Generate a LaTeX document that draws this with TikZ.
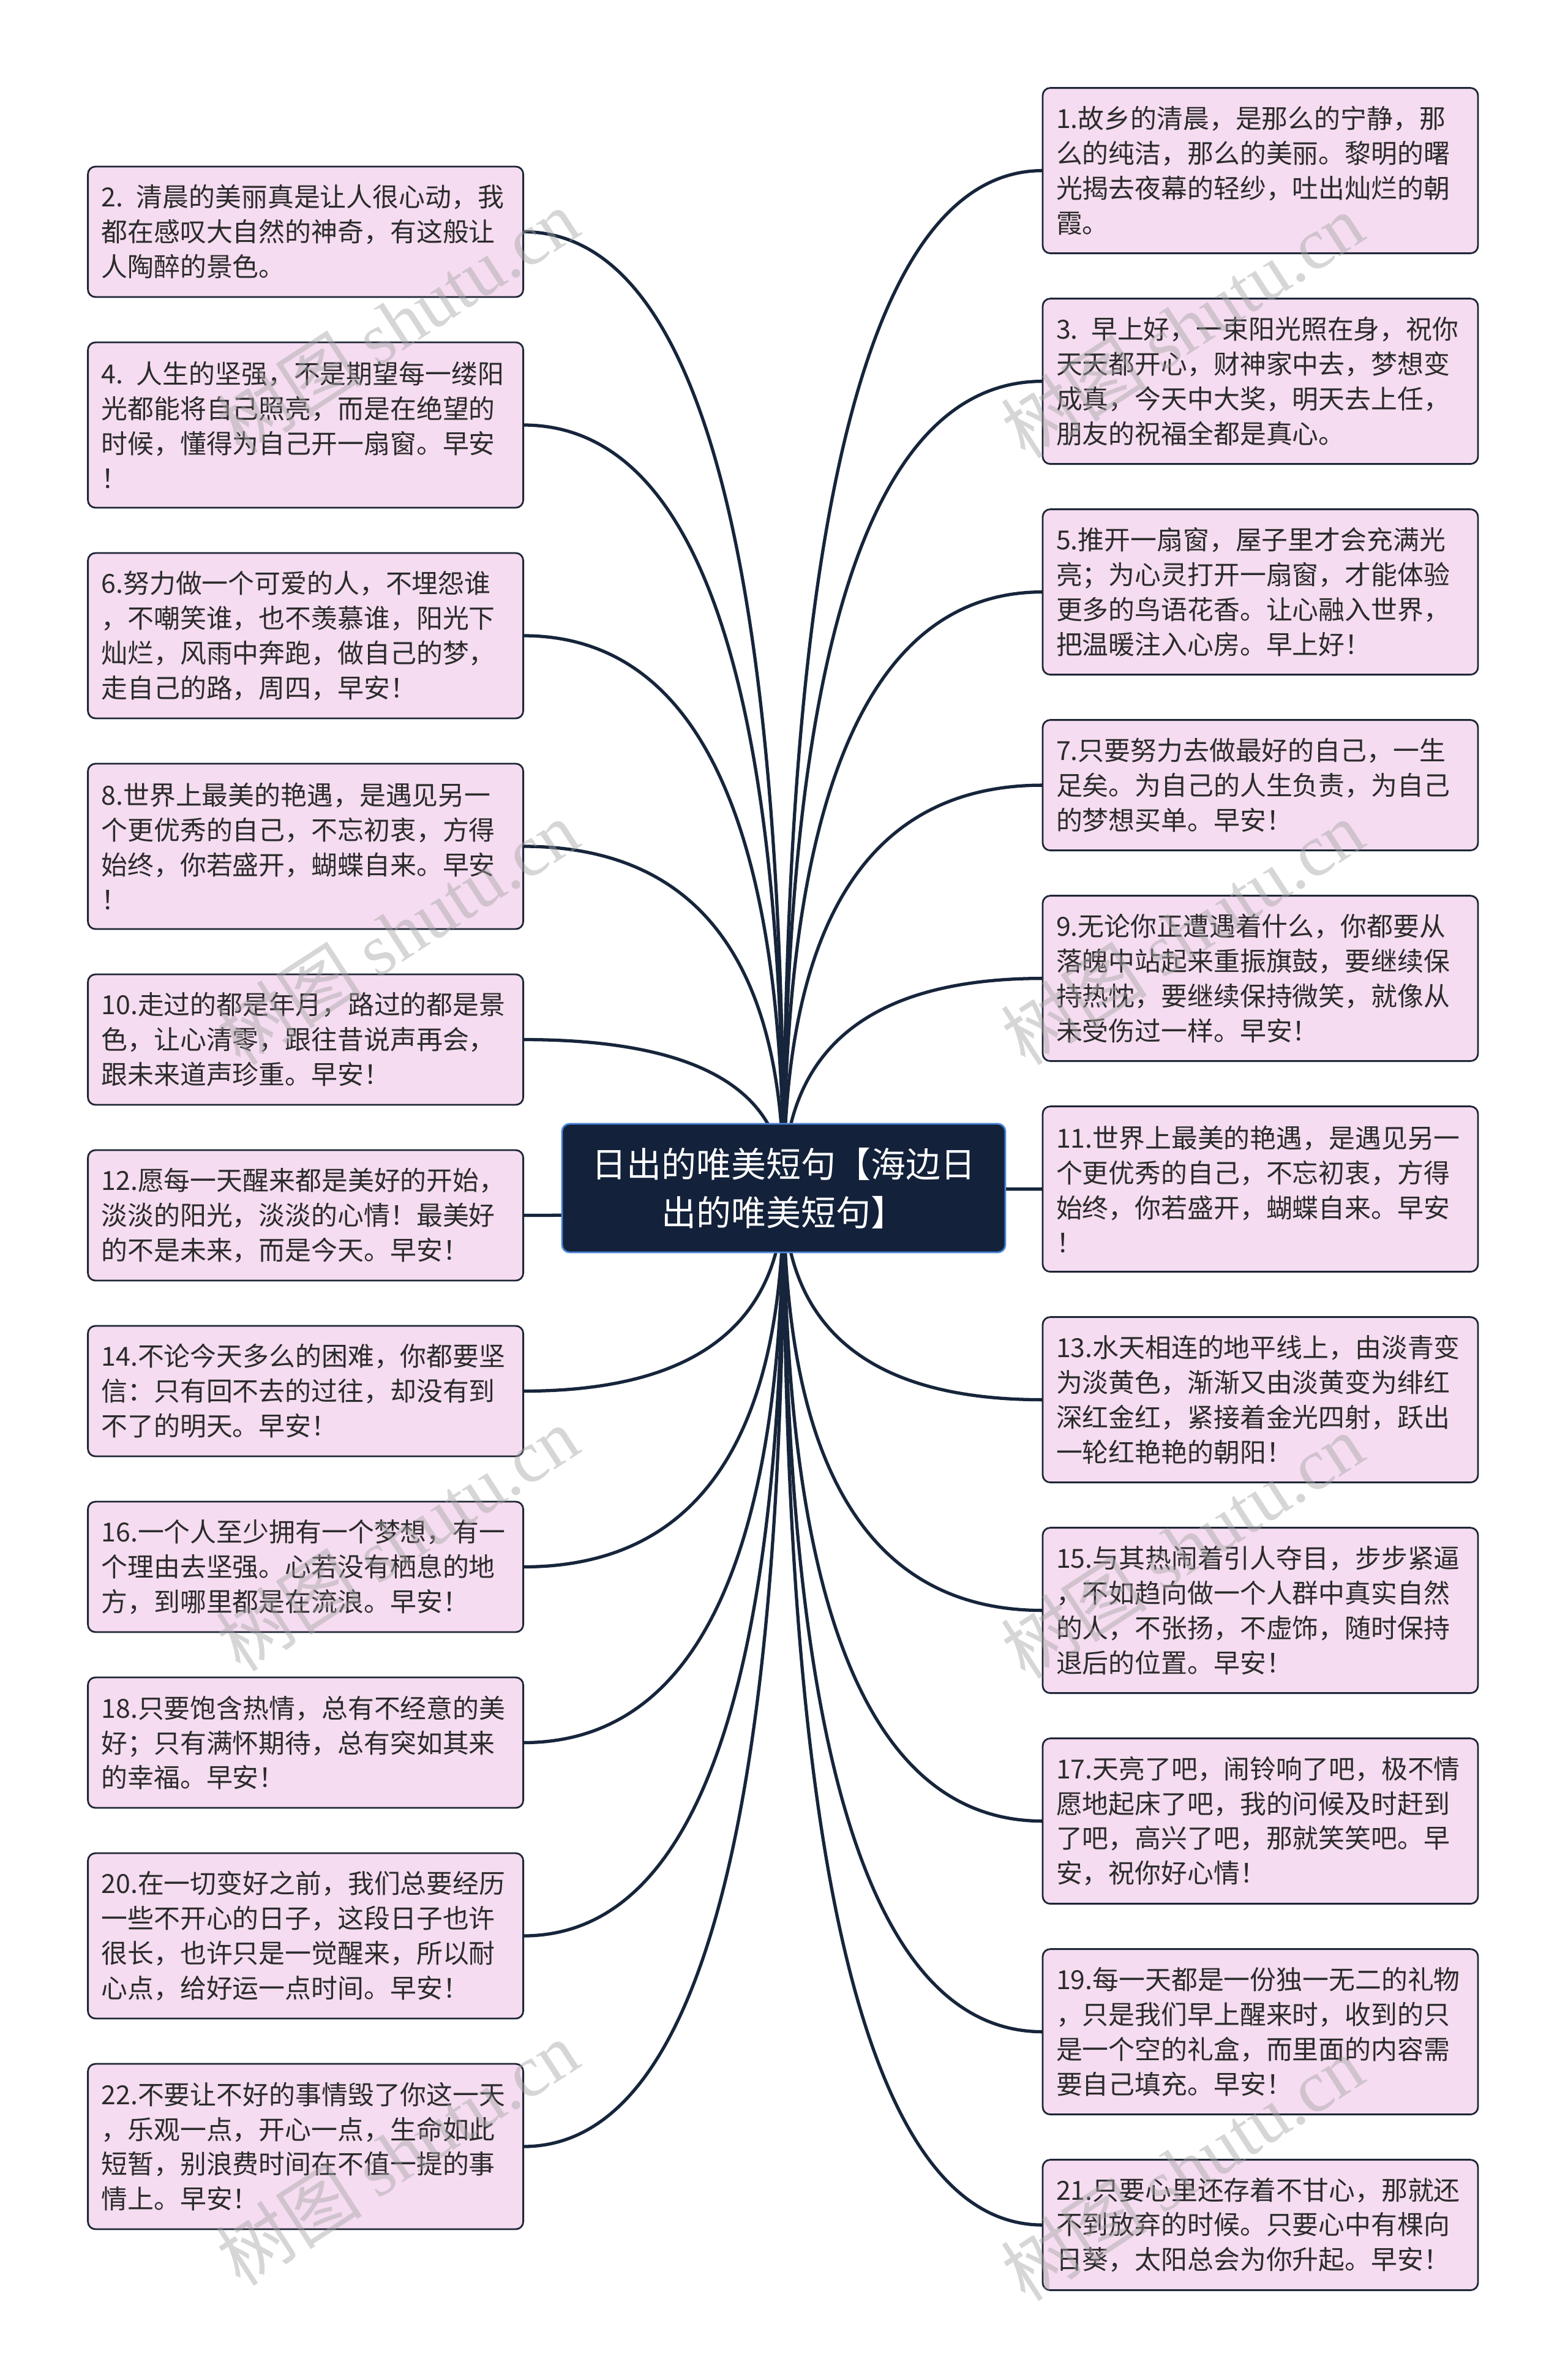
\documentclass[tikz,border=0pt]{standalone}
\usepackage{fontspec}
\setmainfont{Noto Sans CJK SC}
\newfontfamily\wmfont{Liberation Serif}
\usepackage{xcolor}
\usetikzlibrary{positioning, calc, backgrounds}

\definecolor{leaffill}{HTML}{F5DCF0}
\definecolor{leafline}{HTML}{1E2636}
\definecolor{leaftext}{HTML}{2B2B2B}
\definecolor{rootfill}{HTML}{13213A}
\definecolor{rootline}{HTML}{4A86D9}
\definecolor{linkc}{HTML}{16253B}

\begin{document}
\begin{tikzpicture}[
    node distance=0.74cm,
    leaf/.style={draw=leafline, fill=leaffill, line width=0.8pt,
                 rounded corners=3.5pt, text=leaftext, align=left,
                 text width=6.67cm, inner xsep=0.22cm, outer sep=0pt,
                 minimum height=2.13cm,
                 font=\fontsize{12.2pt}{16.2pt}\selectfont},
    tallleaf/.style={leaf, minimum height=2.70cm},
    root/.style={draw=rootline, fill=rootfill, line width=0.8pt,
                 rounded corners=3.5pt, text=white, align=center,
                 minimum width=7.24cm, minimum height=2.10cm,
                 font=\fontsize{16.2pt}{22.4pt}\selectfont},
    link/.style={draw=linkc, line width=1.5pt,
                 to path={.. controls ($(\tikztostart)!2/3!(\tikztostart |- \tikztotarget)$)
                          and ($(\tikztotarget)!2/3!(\tikztostart |- \tikztotarget)$) .. (\tikztotarget)}},
    wmark/.style={rotate=33, text=gray!70, opacity=0.45,
                  font=\fontsize{34pt}{34pt}\selectfont},
]
    \useasboundingbox (0,0) rectangle (25.6,-38.83);

    % centre
    \node[root] (root) at (12.80,-19.40) {日出的唯美短句【海边日\\出的唯美短句】};

    % left column
    \node[leaf, anchor=north west] (l2) at (1.436,-2.72)
        {2. 清晨的美丽真是让人很心动，我\\都在感叹大自然的神奇，有这般让\\人陶醉的景色。};
    \node[tallleaf, below=of l2] (l4)
        {4. 人生的坚强，不是期望每一缕阳\\光都能将自己照亮，而是在绝望的\\时候，懂得为自己开一扇窗。早安\\！};
    \node[tallleaf, below=of l4] (l6)
        {6.努力做一个可爱的人，不埋怨谁\\，不嘲笑谁，也不羡慕谁，阳光下\\灿烂，风雨中奔跑，做自己的梦，\\走自己的路，周四，早安！};
    \node[tallleaf, below=of l6] (l8)
        {8.世界上最美的艳遇，是遇见另一\\个更优秀的自己，不忘初衷，方得\\始终，你若盛开，蝴蝶自来。早安\\！};
    \node[leaf, below=of l8] (l10)
        {10.走过的都是年月，路过的都是景\\色，让心清零，跟往昔说声再会，\\跟未来道声珍重。早安！};
    \node[leaf, below=of l10] (l12)
        {12.愿每一天醒来都是美好的开始，\\淡淡的阳光，淡淡的心情！最美好\\的不是未来，而是今天。早安！};
    \node[leaf, below=of l12] (l14)
        {14.不论今天多么的困难，你都要坚\\信：只有回不去的过往，却没有到\\不了的明天。早安！};
    \node[leaf, below=of l14] (l16)
        {16.一个人至少拥有一个梦想，有一\\个理由去坚强。心若没有栖息的地\\方，到哪里都是在流浪。早安！};
    \node[leaf, below=of l16] (l18)
        {18.只要饱含热情，总有不经意的美\\好；只有满怀期待，总有突如其来\\的幸福。早安！};
    \node[tallleaf, below=of l18] (l20)
        {20.在一切变好之前，我们总要经历\\一些不开心的日子，这段日子也许\\很长，也许只是一觉醒来，所以耐\\心点，给好运一点时间。早安！};
    \node[tallleaf, below=of l20] (l22)
        {22.不要让不好的事情毁了你这一天\\，乐观一点，开心一点，生命如此\\短暂，别浪费时间在不值一提的事\\情上。早安！};

    % right column
    \node[tallleaf, anchor=north west] (r1) at (17.03,-1.436)
        {1.故乡的清晨，是那么的宁静，那\\么的纯洁，那么的美丽。黎明的曙\\光揭去夜幕的轻纱，吐出灿烂的朝\\霞。};
    \node[tallleaf, below=of r1] (r3)
        {3. 早上好，一束阳光照在身，祝你\\天天都开心，财神家中去，梦想变\\成真，今天中大奖，明天去上任，\\朋友的祝福全都是真心。};
    \node[tallleaf, below=of r3] (r5)
        {5.推开一扇窗，屋子里才会充满光\\亮；为心灵打开一扇窗，才能体验\\更多的鸟语花香。让心融入世界，\\把温暖注入心房。早上好！};
    \node[leaf, below=of r5] (r7)
        {7.只要努力去做最好的自己，一生\\足矣。为自己的人生负责，为自己\\的梦想买单。早安！};
    \node[tallleaf, below=of r7] (r9)
        {9.无论你正遭遇着什么，你都要从\\落魄中站起来重振旗鼓，要继续保\\持热忱，要继续保持微笑，就像从\\未受伤过一样。早安！};
    \node[tallleaf, below=of r9] (r11)
        {11.世界上最美的艳遇，是遇见另一\\个更优秀的自己，不忘初衷，方得\\始终，你若盛开，蝴蝶自来。早安\\！};
    \node[tallleaf, below=of r11] (r13)
        {13.水天相连的地平线上，由淡青变\\为淡黄色，渐渐又由淡黄变为绯红\\深红金红，紧接着金光四射，跃出\\一轮红艳艳的朝阳！};
    \node[tallleaf, below=of r13] (r15)
        {15.与其热闹着引人夺目，步步紧逼\\，不如趋向做一个人群中真实自然\\的人，不张扬，不虚饰，随时保持\\退后的位置。早安！};
    \node[tallleaf, below=of r15] (r17)
        {17.天亮了吧，闹铃响了吧，极不情\\愿地起床了吧，我的问候及时赶到\\了吧，高兴了吧，那就笑笑吧。早\\安，祝你好心情！};
    \node[tallleaf, below=of r17] (r19)
        {19.每一天都是一份独一无二的礼物\\，只是我们早上醒来时，收到的只\\是一个空的礼盒，而里面的内容需\\要自己填充。早安！};
    \node[leaf, below=of r19] (r21)
        {21.只要心里还存着不甘心，那就还\\不到放弃的时候。只要心中有棵向\\日葵，太阳总会为你升起。早安！};

    % links
    \begin{scope}[on background layer]
        \fill[white] (0,0) rectangle (25.6,-38.83);
        \draw[link] (root.center) to (l2.east);
        \draw[link] (root.center) to (l4.east);
        \draw[link] (root.center) to (l6.east);
        \draw[link] (root.center) to (l8.east);
        \draw[link] (root.center) to (l10.east);
        \draw[link] (root.center) to (l12.east);
        \draw[link] (root.center) to (l14.east);
        \draw[link] (root.center) to (l16.east);
        \draw[link] (root.center) to (l18.east);
        \draw[link] (root.center) to (l20.east);
        \draw[link] (root.center) to (l22.east);
        \draw[link] (root.center) to (r1.west);
        \draw[link] (root.center) to (r3.west);
        \draw[link] (root.center) to (r5.west);
        \draw[link] (root.center) to (r7.west);
        \draw[link] (root.center) to (r9.west);
        \draw[link] (root.center) to (r11.west);
        \draw[link] (root.center) to (r13.west);
        \draw[link] (root.center) to (r15.west);
        \draw[link] (root.center) to (r17.west);
        \draw[link] (root.center) to (r19.west);
        \draw[link] (root.center) to (r21.west);
    \end{scope}

    % watermark
    \node[wmark] (wm1) at (6.49,-5.25) {树图 {\wmfont shutu.cn}};
    \node[wmark] (wm2) at (6.49,-15.23) {树图 {\wmfont shutu.cn}};
    \node[wmark] (wm3) at (6.49,-25.13) {树图 {\wmfont shutu.cn}};
    \node[wmark] (wm4) at (6.49,-35.16) {树图 {\wmfont shutu.cn}};
    \node[wmark] (wm5) at (19.31,-5.32) {树图 {\wmfont shutu.cn}};
    \node[wmark] (wm6) at (19.31,-15.23) {树图 {\wmfont shutu.cn}};
    \node[wmark] (wm7) at (19.31,-25.25) {树图 {\wmfont shutu.cn}};
    \node[wmark] (wm8) at (19.31,-35.41) {树图 {\wmfont shutu.cn}};
\end{tikzpicture}
\end{document}
